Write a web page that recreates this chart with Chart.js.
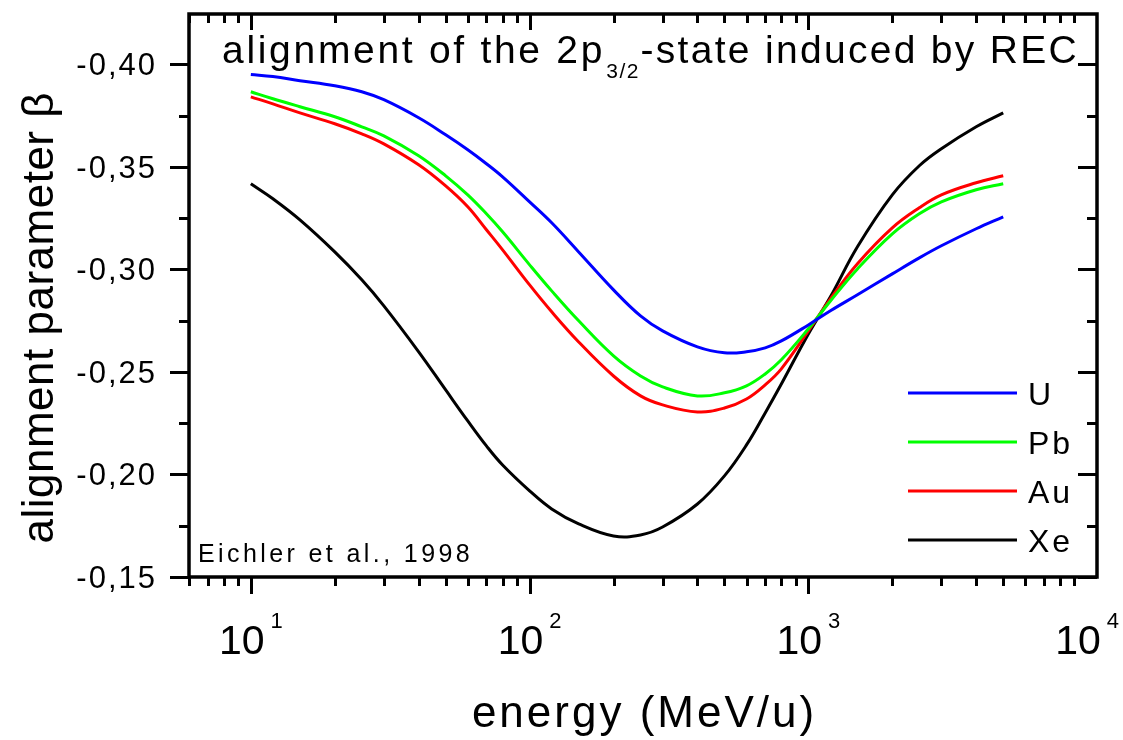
<!doctype html>
<html lang="en">
<head>
<meta charset="utf-8" />
<title>alignment of the 2p3/2-state induced by REC</title>
<style>
  body { margin: 0; background: #fff; }
  #wrap { width: 1123px; height: 740px; }
</style>
</head>
<body>
<div id="wrap"><canvas id="alignChart" width="1123" height="740"></canvas></div>
<script src="https://cdn.jsdelivr.net/npm/chart.js@4.4.0/dist/chart.umd.min.js"></script>
<script>
  // energy grid (MeV/u) and the beta values
  const energies = [10, 12, 15, 20, 25, 30, 40, 50, 60, 70, 80, 100, 120, 150, 200, 250, 300, 400, 500, 600, 700, 800, 1000, 1200, 1500, 2000, 2500, 3000, 4000, 5000];
  const betaU  = [-0.3950, -0.3940, -0.3920, -0.3895, -0.3866, -0.3827, -0.3739, -0.3656, -0.3583, -0.3515, -0.3451, -0.3329, -0.3227, -0.3085, -0.2900, -0.2773, -0.2700, -0.2622, -0.2593, -0.2598, -0.2617, -0.2651, -0.2729, -0.2798, -0.2876, -0.2978, -0.3056, -0.3115, -0.3198, -0.3256];
  const betaPb = [-0.3866, -0.3832, -0.3793, -0.3744, -0.3695, -0.3651, -0.3554, -0.3456, -0.3363, -0.3271, -0.3183, -0.3022, -0.2895, -0.2749, -0.2578, -0.2480, -0.2427, -0.2383, -0.2398, -0.2432, -0.2490, -0.2559, -0.2710, -0.2846, -0.3002, -0.3173, -0.3271, -0.3329, -0.3388, -0.3417];
  const betaAu = [-0.3841, -0.3807, -0.3763, -0.3710, -0.3661, -0.3612, -0.3510, -0.3407, -0.3305, -0.3193, -0.3095, -0.2924, -0.2793, -0.2646, -0.2480, -0.2383, -0.2339, -0.2305, -0.2324, -0.2368, -0.2437, -0.2515, -0.2700, -0.2856, -0.3027, -0.3202, -0.3300, -0.3363, -0.3422, -0.3456];
  const betaXe = [-0.3417, -0.3344, -0.3241, -0.3085, -0.2949, -0.2822, -0.2598, -0.2412, -0.2261, -0.2139, -0.2046, -0.1920, -0.1832, -0.1759, -0.1700, -0.1705, -0.1744, -0.1856, -0.1993, -0.2144, -0.2300, -0.2441, -0.2685, -0.2866, -0.3110, -0.3363, -0.3505, -0.3588, -0.3695, -0.3763];

  const seriesNames  = ['U', 'Pb', 'Au', 'Xe'];
  const seriesValues = [betaU, betaPb, betaAu, betaXe];
  const seriesColors = ['#0000ff', '#00ff00', '#ff0000', '#000000'];

  const yMajorTicks  = [-0.40, -0.35, -0.30, -0.25, -0.20, -0.15];
  const yTickLabels  = ['-0,40', '-0,35', '-0,30', '-0,25', '-0,20', '-0,15'];
  const xDecades     = [10, 100, 1000, 10000];
  const xDecadeExps  = ['1', '2', '3', '4'];

  const FONT = '"Liberation Sans", Arial, sans-serif';

  // draw text one glyph at a time so the wide Origin-like spacing can be matched
  function spacedWidth(ctx, text, sp) {
    let w = 0;
    for (const ch of text) w += ctx.measureText(ch).width + sp;
    return w - sp;
  }
  function drawSpaced(ctx, text, x, y, sp) {
    for (const ch of text) {
      ctx.fillText(ch, x, y);
      x += ctx.measureText(ch).width + sp;
    }
    return x - sp;
  }

  const framePlugin = {
    id: 'framePlugin',
    afterDraw(chart) {
      const ctx = chart.ctx;
      const a = chart.chartArea;
      const xs = chart.scales.x, ys = chart.scales.y;
      ctx.save();
      ctx.strokeStyle = '#000';
      ctx.fillStyle = '#000';
      ctx.lineCap = 'butt';

      // frame
      ctx.lineWidth = 3.5;
      ctx.strokeRect(a.left, a.top, a.right - a.left, a.bottom - a.top);

      // x ticks, bottom outward and top inward
      ctx.lineWidth = 3;
      ctx.beginPath();
      for (const d of [1, 10, 100, 1000]) {
        for (let m = 1; m <= 9; m++) {
          const v = m * d;
          if (v < xs.min - 1e-9 || v > xs.max) continue;
          const px = Math.round(xs.getPixelForValue(v)) + 0.5;
          const major = m === 1;
          ctx.moveTo(px, a.bottom); ctx.lineTo(px, a.bottom + (major ? 17 : 9));
          ctx.moveTo(px, a.top); ctx.lineTo(px, a.top + (major ? 16 : 9));
        }
      }
      // y ticks, left outward and right inward
      for (let i = 0; i <= 10; i++) {
        const v = -0.40 + i * 0.025;
        const py = Math.round(ys.getPixelForValue(v)) + 0.5;
        const major = i % 2 === 0;
        ctx.moveTo(a.left - (major ? 19 : 10), py); ctx.lineTo(a.left, py);
        ctx.moveTo(a.right - (major ? 19 : 10), py); ctx.lineTo(a.right, py);
      }
      ctx.stroke();

      // y tick labels
      ctx.font = '31px ' + FONT;
      ctx.textBaseline = 'alphabetic';
      yMajorTicks.forEach((v, i) => {
        const py = ys.getPixelForValue(v);
        const w = spacedWidth(ctx, yTickLabels[i], 2);
        drawSpaced(ctx, yTickLabels[i], 155 - w, py + 11, 2);
      });

      // x tick labels: 10 with superscript exponent
      xDecades.forEach((v, i) => {
        const px = xs.getPixelForValue(v);
        ctx.font = '41px ' + FONT;
        const wBase = ctx.measureText('10').width;
        ctx.font = '22px ' + FONT;
        const wExp = ctx.measureText(xDecadeExps[i]).width;
        const x0 = px - (wBase + 6 + wExp) / 2;
        ctx.font = '41px ' + FONT;
        ctx.fillText('10', x0, 654);
        ctx.font = '22px ' + FONT;
        ctx.fillText(xDecadeExps[i], x0 + wBase + 6, 628);
      });

      // axis titles
      ctx.font = '44px ' + FONT;
      const xt = 'energy (MeV/u)';
      drawSpaced(ctx, xt, 643 - spacedWidth(ctx, xt, 3) / 2, 727, 3);

      ctx.save();
      ctx.translate(53, 318);
      ctx.rotate(-Math.PI / 2);
      const yt = 'alignment parameter \u03B2';
      drawSpaced(ctx, yt, -spacedWidth(ctx, yt, 0.5) / 2, 0, 0.5);
      ctx.restore();

      // title inside the plot
      ctx.font = '39px ' + FONT;
      let tx = drawSpaced(ctx, 'alignment of the 2p', 222, 63, 2.7);
      ctx.font = '21px ' + FONT;
      tx = drawSpaced(ctx, '3/2', tx + 4, 78, 1.5);
      ctx.font = '39px ' + FONT;
      drawSpaced(ctx, '-state induced by REC', tx + 2, 63, 2.3);

      // reference note
      ctx.font = '25px ' + FONT;
      drawSpaced(ctx, 'Eichler et al., 1998', 198, 562, 3.4);

      // legend
      chart.data.datasets.forEach((ds, i) => {
        const ly = 393 + i * 49;
        ctx.strokeStyle = ds.borderColor;
        ctx.lineWidth = 3;
        ctx.beginPath();
        ctx.moveTo(908, ly); ctx.lineTo(1017, ly);
        ctx.stroke();
        ctx.font = '32px ' + FONT;
        drawSpaced(ctx, ds.label, 1028, ly + 12, 3);
      });

      ctx.restore();
    }
  };

  const datasets = seriesNames.map((name, i) => ({
    label: name,
    data: energies.map((e, j) => ({ x: e, y: seriesValues[i][j] })),
    borderColor: seriesColors[i],
    borderWidth: 3,
    pointRadius: 0,
    fill: false,
    tension: 0.4
  }));

  const ctx = document.getElementById('alignChart').getContext('2d');
  const chart = new Chart(ctx, {
    type: 'line',
    data: { datasets },
    options: {
      responsive: false,
      animation: false,
      layout: { padding: { left: 189, right: 26, top: 14, bottom: 163 } },
      plugins: { legend: { display: false }, tooltip: { enabled: false } },
      scales: {
        x: { type: 'logarithmic', min: 6, max: 10850, display: false },
        y: { type: 'linear', min: -0.4245, max: -0.15, reverse: true, display: false }
      }
    },
    plugins: [framePlugin]
  });
</script>
</body>
</html>
